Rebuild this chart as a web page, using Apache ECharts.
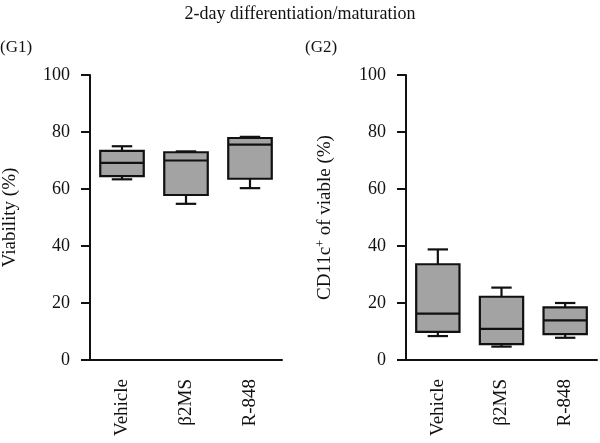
<!DOCTYPE html>
<html>
<head>
<meta charset="utf-8">
<script src="https://cdn.jsdelivr.net/npm/echarts@6/dist/echarts.min.js"></script>
<style>
  html, body { margin: 0; padding: 0; background: #fff; }
  #main { width: 600px; height: 443px; }
</style>
</head>
<body>
<div id="main"></div>
<script>
// categories and tick labels
const categories = ['Vehicle', 'β2MS', 'R-848'];
const yTicks = [0, 20, 40, 60, 80, 100];

// box stats: [min, q1, median, q3, max]
const viability = [
  [63.4, 64.5, 69.2, 73.4, 75.0],
  [54.8, 57.9, 70.0, 72.9, 73.2],
  [60.3, 63.6, 75.6, 77.9, 78.3]
];
const cd11c = [
  [8.4, 9.9, 16.3, 33.6, 38.8],
  [4.7, 5.6, 10.9, 22.2, 25.4],
  [7.8, 9.1, 13.9, 18.5, 20.0]
];

const font = 'Liberation Serif';
const ink = '#111';

function renderBox (params, api) {
  const i = api.value(0);
  const lo = api.coord([i, api.value(1)]);
  const q1 = api.coord([i, api.value(2)]);
  const med = api.coord([i, api.value(3)]);
  const q3 = api.coord([i, api.value(4)]);
  const hi = api.coord([i, api.value(5)]);
  const band = api.size([1, 0])[0];
  const bw = band * 0.68;
  const cw = band * 0.32;
  const x = med[0];
  const st = { stroke: ink, lineWidth: 2.2, fill: null };
  return {
    type: 'group',
    children: [
      { type: 'line', shape: { x1: x, y1: hi[1], x2: x, y2: q3[1] }, style: st },
      { type: 'line', shape: { x1: x, y1: q1[1], x2: x, y2: lo[1] }, style: st },
      { type: 'line', shape: { x1: x - cw / 2, y1: hi[1], x2: x + cw / 2, y2: hi[1] }, style: st },
      { type: 'line', shape: { x1: x - cw / 2, y1: lo[1], x2: x + cw / 2, y2: lo[1] }, style: st },
      { type: 'rect', shape: { x: x - bw / 2, y: q3[1], width: bw, height: q1[1] - q3[1] },
        style: { fill: '#a3a3a3', stroke: ink, lineWidth: 2.2 } },
      { type: 'line', shape: { x1: x - bw / 2, y1: med[1], x2: x + bw / 2, y2: med[1] }, style: st }
    ]
  };
}

function toData (arr) {
  return arr.map((d, i) => [i].concat(d));
}

function xAxis (idx) {
  return {
    type: 'category',
    gridIndex: idx,
    data: categories,
    axisLine: { lineStyle: { color: ink, width: 2 } },
    axisTick: { alignWithLabel: true, length: 9, lineStyle: { color: ink, width: 2 } },
    axisLabel: { rotate: 90, color: ink, fontFamily: font, fontSize: 19, margin: 19 }
  };
}

function yAxis (idx, name) {
  return {
    type: 'value',
    gridIndex: idx,
    min: yTicks[0],
    max: yTicks[yTicks.length - 1],
    interval: 20,
    name: name,
    nameLocation: 'middle',
    nameGap: 70,
    nameTextStyle: { color: ink, fontFamily: font, fontSize: 19, rich: { sup: { fontSize: 12, verticalAlign: 'top', color: ink, fontFamily: font, padding: [0, 0, 9, 0] } } },
    splitLine: { show: false },
    axisLine: { show: true, lineStyle: { color: ink, width: 2 } },
    axisTick: { show: true, length: 9, lineStyle: { color: ink, width: 2 } },
    axisLabel: { color: ink, fontFamily: font, fontSize: 18, margin: 20 }
  };
}

const chart = echarts.init(document.getElementById('main'));
chart.setOption({
  backgroundColor: '#fff',
  animation: false,
  title: [
    { text: '2-day differentiation/maturation', left: 'center', top: 0,
      textStyle: { color: ink, fontFamily: font, fontSize: 18, fontWeight: 'normal' } },
    { text: '(G1)', left: -5, top: 34,
      textStyle: { color: ink, fontFamily: font, fontSize: 17, fontWeight: 'normal' } },
    { text: '(G2)', left: 300, top: 34,
      textStyle: { color: ink, fontFamily: font, fontSize: 17, fontWeight: 'normal' } }
  ],
  grid: [
    { left: 90, top: 75, width: 192, height: 285 },
    { left: 406, top: 75, width: 191, height: 285 }
  ],
  xAxis: [xAxis(0), xAxis(1)],
  yAxis: [yAxis(0, 'Viability (%)'), yAxis(1, 'CD11c{sup|+} of viable (%)')],
  series: [
    { type: 'custom', xAxisIndex: 0, yAxisIndex: 0, renderItem: renderBox,
      encode: { x: 0, y: [1, 2, 3, 4, 5] }, data: toData(viability) },
    { type: 'custom', xAxisIndex: 1, yAxisIndex: 1, renderItem: renderBox,
      encode: { x: 0, y: [1, 2, 3, 4, 5] }, data: toData(cd11c) }
  ]
});
</script>
</body>
</html>
